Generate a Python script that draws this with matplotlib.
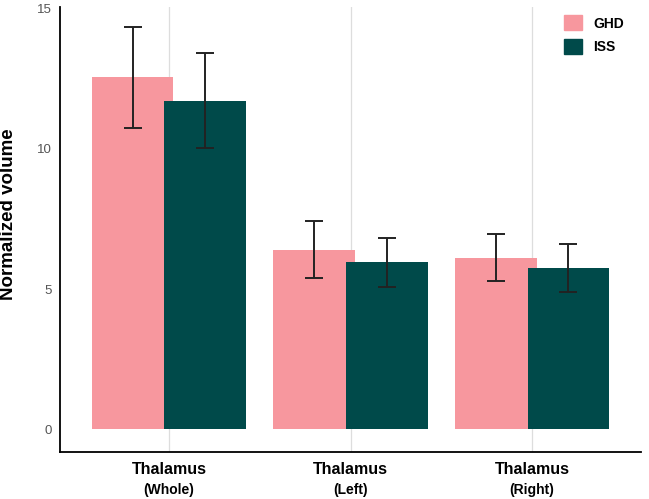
import numpy as np
import matplotlib; matplotlib.use("Agg")
import matplotlib.pyplot as plt
from matplotlib.transforms import blended_transform_factory
from matplotlib.patches import Patch

plt.rcParams['font.family'] = ['Liberation Sans', 'DejaVu Sans']

regions = ["Thalamus", "Thalamus", "Thalamus"]
sides = ["(Whole)", "(Left)", "(Right)"]
ghd_mean = [12.56, 6.41, 6.12]
ghd_err = [1.80, 1.03, 0.83]
iss_mean = [11.73, 5.95, 5.76]
iss_err = [1.69, 0.87, 0.85]

GHD_C = "#F7979E"
ISS_C = "#004A4A"

fig = plt.figure(figsize=(6.49, 4.99), dpi=100)
ax = fig.add_axes([60/649, 1-452/499, 581/649, 445/499])

x = np.arange(len(regions))
w, off = 0.45, 0.2
for xi in x:
    ax.axvline(xi, color="#dddddd", lw=0.9, zorder=0)
ax.bar(x - off, ghd_mean, w, color=GHD_C, zorder=2)
ax.bar(x + off, iss_mean, w, color=ISS_C, zorder=3)
ekw = dict(fmt="none", ecolor="#222222", elinewidth=1.4, capsize=6.5, capthick=1.4, zorder=4)
ax.errorbar(x - off, ghd_mean, yerr=ghd_err, **ekw)
ax.errorbar(x + off, iss_mean, yerr=iss_err, **ekw)

ax.set_xlim(-0.6, 2.6)
ax.set_ylim(-0.82, 15.07)
ax.set_yticks([0, 5, 10, 15])
ax.tick_params(axis="y", length=0, labelsize=9.5, labelcolor="#555555", pad=6)
ax.set_xticks([])
for s in ("top", "right"):
    ax.spines[s].set_visible(False)
for s in ("left", "bottom"):
    ax.spines[s].set_linewidth(1.3)
ax.set_ylabel("Normalized volume", fontsize=13.5, fontweight="bold")
ax.yaxis.set_label_coords((17 - 60) / 581, (452 - 214) / 445)

tr = blended_transform_factory(ax.transData, fig.transFigure)
for xi, r, sd in zip(x, regions, sides):
    ax.text(xi, 1-470/499, r, transform=tr, ha="center", va="center",
            fontsize=11.5, fontweight="bold")
    ax.text(xi, 1-490/499, sd, transform=tr, ha="center", va="center",
            fontsize=10, fontweight="bold")

handles = [Patch(color=GHD_C, label="GHD"), Patch(color=ISS_C, label="ISS")]
ax.legend(handles=handles, loc="upper right", bbox_to_anchor=(0.985, 1.0), frameon=False,
          handlelength=1.3, handleheight=1.3, borderaxespad=0.2, labelspacing=0.6,
          prop=dict(weight="bold", size=10))

fig.savefig("out.png", dpi=100)
